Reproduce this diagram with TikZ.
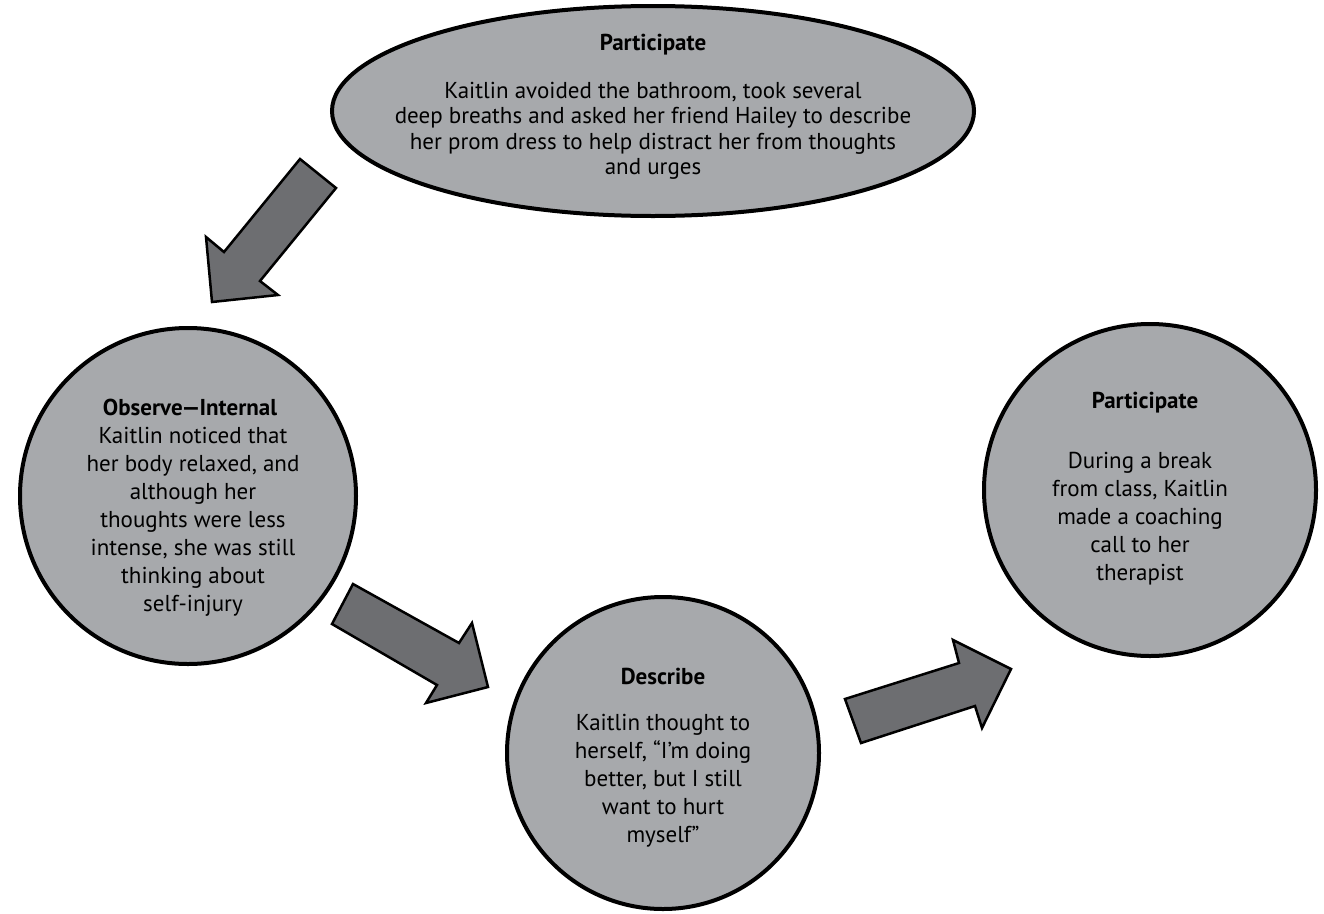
\documentclass[tikz,border=0pt]{standalone}
\usepackage{fontspec}
\setmainfont{PT Sans}
\usetikzlibrary{shapes.geometric}
\definecolor{bubblegray}{HTML}{A7A9AC}
\definecolor{arrowgray}{HTML}{6D6E71}
\begin{document}
\begin{tikzpicture}[x=1pt,y=-1pt,
  bubble/.style={draw=black, line width=4pt, fill=bubblegray, inner sep=0pt, outer sep=0pt},
  title/.style={font=\fontsize{23}{27}\selectfont\bfseries, anchor=base, inner sep=0pt},
  body/.style={font=\fontsize{23}{28}\selectfont, align=center, inner sep=0pt},
  blockarrow/.style={draw=black, line width=2.5pt, fill=arrowgray, line join=miter}]
\useasboundingbox (0,0) rectangle (1324,913);

% the four stages
\node[bubble, ellipse, minimum width=642, minimum height=210] (top) at (653,111) {};
\node[bubble, circle, minimum size=336] (observe) at (188,496) {};
\node[bubble, circle, minimum size=312] (describe) at (663,753) {};
\node[bubble, circle, minimum size=332] (part) at (1150,490) {};

% texts
\node[title] (toptitle) at (653,50) {Participate};
\node[body, font=\fontsize{23}{25.5}\selectfont] (topbody) at (653,131)
  {Kaitlin avoided the bathroom, took several\\
   deep breaths and asked her friend Hailey to describe\\
   her prom dress to help distract her from thoughts\\
   and urges};

\node[title] (obstitle) at (190,415) {Observe\kern-1pt—\kern-1pt Internal};
\node[body] (obsbody) at (193,522)
  {Kaitlin noticed that\\ her body relaxed, and\\ although her\\
   thoughts were less\\ intense, she was still\\ thinking about\\ self-injury};

\node[title] (destitle) at (663,684) {Describe};
\node[body] (desbody) at (663,781)
  {Kaitlin thought to\\ herself, “I’m doing\\ better, but I still\\
   want to hurt\\ myself”};

\node[title] (parttitle) at (1145,408) {Participate};
\node[body] (partbody) at (1140,519)
  {During a break\\ from class, Kaitlin\\ made a coaching\\
   call to her\\ therapist};

% block arrows between the stages
\draw[blockarrow] (300,159) -- (336,188) -- (260,281) -- (278,295) -- (212,302)
  -- (206,237) -- (224,252) -- cycle;
\draw[blockarrow] (353,584) -- (459,643) -- (472,623) -- (488,687) -- (426,703)
  -- (437,685) -- (332,624) -- cycle;
\draw[blockarrow] (845,699) -- (959,663) -- (953,640) -- (1011,669) -- (982,728)
  -- (975,706) -- (861,743) -- cycle;
\end{tikzpicture}
\end{document}
